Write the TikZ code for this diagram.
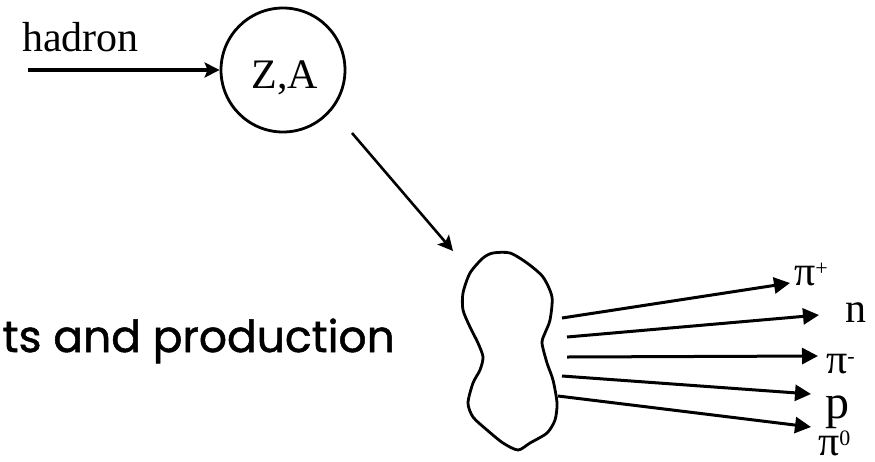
\documentclass[tikz,border=0pt]{standalone}
\usepackage{fontspec}
\setmainfont{Liberation Serif}
\newfontfamily\handfont{Poppins}[FakeBold=1.2]
\usetikzlibrary{arrows.meta}

\newcommand{\charge}[1]{\raisebox{10pt}{\fontsize{22}{22}\selectfont #1}}

\begin{document}
\begin{tikzpicture}[x=1pt,y=-1pt,
	every node/.style={inner sep=0pt},
	big/.style={font=\fontsize{42}{48}\selectfont},
	ray/.style={line width=3pt,-{Triangle[length=16pt,width=16pt]}},
	beam/.style={line width=3.6pt,-{Stealth[length=15pt,width=15pt,inset=3pt]}}]

	\clip (0,0) rectangle (875,461);

	
	\node[circle,draw,line width=2.8pt,minimum size=124pt] (nucleus) at (283,70) {};
	\node[big,anchor=base] (za) at (285,88) {Z,A};
	\node[big,anchor=base west] (hadron) at (22,51) {hadron};
	\coordinate (src) at (28,70);
	\coordinate (fall) at (352,133);
	\coordinate (hit) at (453,251);

	\node[anchor=base east,font=\handfont\fontsize{44}{48}\selectfont] (caption) at (395,352) {nts and production};

	
	\node[big,anchor=base west] (pip) at (794,285) {π\charge{+}};
	\node[big,anchor=base west] (neu) at (845,322) {n};
	\node[big,anchor=base west] (pim) at (826,373) {π\charge{-}};
	\node[anchor=base west,font=\fontsize{48}{52}\selectfont] (pro) at (825,418) {p};
	\node[big,anchor=base west] (piz) at (818,455) {π\charge{0}};

	
	\coordinate (s1) at (562,318);  \coordinate (t1) at (790,283);
	\coordinate (s2) at (567,337);  \coordinate (t2) at (819,315);
	\coordinate (s3) at (567,357);  \coordinate (t3) at (818,356);
	\coordinate (s4) at (562,376);  \coordinate (t4) at (811,394);
	\coordinate (s5) at (558,396);  \coordinate (t5) at (811,427);

	
	\draw[line width=2.8pt] plot[smooth cycle,tension=0.45] coordinates {
		(493,253) (510,253) (527,263) (543,277) (552,297) (550,320)
		(545,333) (542,343) (547,363) (553,380) (557,403) (555,420)
		(547,433) (530,443) (518,450) (503,443) (487,430) (473,417)
		(468,403) (473,383) (480,370) (483,357) (478,343) (470,327)
		(463,310) (463,293) (470,273) (483,258)};

	\draw[beam] (src) -- (nucleus);
	\draw[beam,line width=2.6pt] (fall) -- (hit);
	\draw[ray] (s1) -- (t1);
	\draw[ray] (s2) -- (t2);
	\draw[ray] (s3) -- (t3);
	\draw[ray] (s4) -- (t4);
	\draw[ray] (s5) -- (t5);
\end{tikzpicture}
\end{document}
